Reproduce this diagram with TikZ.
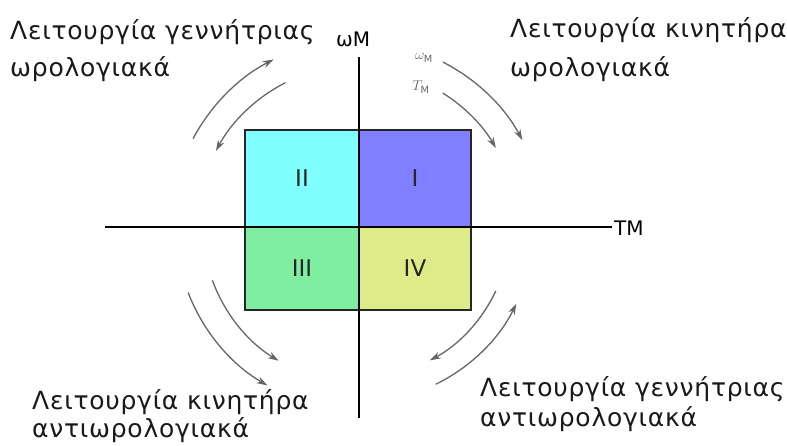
\documentclass[tikz,border=0pt]{standalone}
\usepackage{fontspec}
\setmainfont{DejaVu Sans}
\newfontfamily\lblfont[LetterSpace=3]{DejaVu Sans}
\usetikzlibrary{arrows.meta}
\definecolor{qone}{RGB}{127,127,255}
\definecolor{qtwo}{RGB}{128,255,255}
\definecolor{qthree}{RGB}{128,238,160}
\definecolor{qfour}{RGB}{221,236,136}
\begin{document}
\begin{tikzpicture}[x=1pt,y=1pt,
  lbl/.style={anchor=base west,inner sep=0pt,font=\lblfont\fontsize{25}{25}\selectfont,text=black!90},
  quad/.style={draw=black!85,line width=1.3pt,inner sep=0pt,anchor=center,font=\fontsize{23}{23}\selectfont,text=black!85},
  axisline/.style={line width=2pt,black},
  rot/.style={draw=black!60,line width=1.3pt,-{Stealth[length=11pt,width=7pt]}},
  small/.style={inner sep=0pt,text=black!60,font=\fontsize{14}{14}\selectfont}]
\useasboundingbox (0,0) rectangle (787,446);
\coordinate (O) at (359,219);
% quadrants
\node[quad,fill=qtwo,minimum width=114pt,minimum height=97pt] (q2) at (302,267.5) {II};
\node[quad,fill=qone,minimum width=112pt,minimum height=97pt] (q1) at (415,267.5) {I};
\node[quad,fill=qthree,minimum width=114pt,minimum height=83pt] (q3) at (302,177.5) {III};
\node[quad,fill=qfour,minimum width=112pt,minimum height=83pt] (q4) at (415,177.5) {IV};
% axes
\coordinate (xl) at (105,219);
\coordinate (xr) at (612,219);
\coordinate (yb) at (359,28);
\coordinate (yt) at (359,389);
\draw[axisline] (xl) -- (xr);
\draw[axisline] (yb) -- (yt);
\node[anchor=base west,inner sep=0pt,font=\fontsize{20}{20}\selectfont] (tm) at (614,210) {TM};
\node[anchor=base west,inner sep=0pt,font=\fontsize{20}{20}\selectfont] (wm) at (336,399) {ωM};
% small labels
\node[small] (wsub) at (424,388) {$\omega_{\mathrm{M}}$};
\node[small] (tsub) at (421,359) {$T_{\mathrm{M}}$};
% arc start points
\path (O) ++(152:188) coordinate (tlo);
\path (O) ++(117:162) coordinate (tli);
\path (O) ++(63:185) coordinate (tro);
\path (O) ++(58:158) coordinate (tri);
\path (O) ++(200:156) coordinate (blo);
\path (O) ++(201:183) coordinate (bli);
\path (O) ++(-25:151) coordinate (bra);
\path (O) ++(-64:175) coordinate (brb);
% rotation arrows
\draw[rot] (tlo) arc[start angle=152,end angle=117,radius=188];
\draw[rot] (tli) arc[start angle=117,end angle=152,radius=162];
\draw[rot] (tro) arc[start angle=63,end angle=28,radius=185];
\draw[rot] (tri) arc[start angle=58,end angle=30,radius=158];
\draw[rot] (blo) arc[start angle=200,end angle=239,radius=156];
\draw[rot] (bli) arc[start angle=201,end angle=240,radius=183];
\draw[rot] (bra) arc[start angle=-25,end angle=-62,radius=151];
\draw[rot] (brb) arc[start angle=-64,end angle=-26,radius=175];
% corner texts
\node[lbl] (tl1) at (10,406) {Λειτουργία γεννήτριας};
\node[lbl] (tl2) at (10,369) {ωρολογιακά};
\node[lbl] (tr1) at (510,408) {Λειτουργία κινητήρα};
\node[lbl] (tr2) at (510,369) {ωρολογιακά};
\node[lbl] (bl1) at (32,36) {Λειτουργία κινητήρα};
\node[lbl] (bl2) at (32,8) {αντιωρολογιακά};
\node[lbl] (br1) at (480,49) {Λειτουργία γεννήτριας};
\node[lbl] (br2) at (480,19) {αντιωρολογιακά};
\end{tikzpicture}
\end{document}
